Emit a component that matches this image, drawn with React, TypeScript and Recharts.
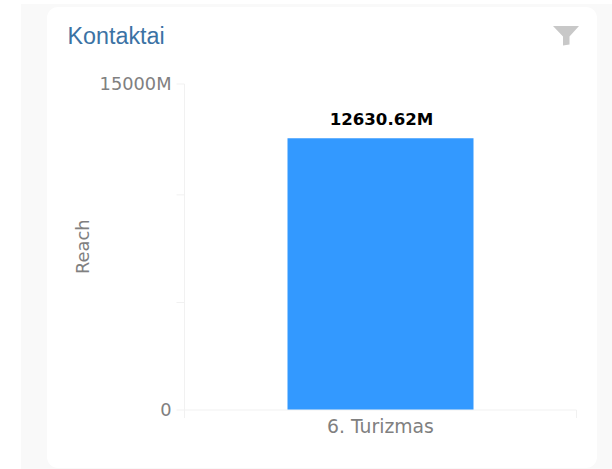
import { Bar, BarChart, LabelList, XAxis, YAxis } from 'recharts';

const categories = ['6. Turizmas'];
const reach = [12630.62];
// the top tick sits a little above where 15000 falls on the bar's scale in the reference
const yTicks = [0, 5000, 10000, 15155];
const yTickLabels = ['0', '', '', '15000M'];

const AXIS_COLOR = '#f1f1f1';
const TEXT_COLOR = '#808080';
const FONT = '"DejaVu Sans", sans-serif';

const data = categories.map((name, i) => ({ name, reach: reach[i] }));

function FunnelIcon() {
  return (
    <svg
      width={26}
      height={20}
      viewBox="0 0 26 20"
      style={{ position: 'absolute', left: 553, top: 26 }}
    >
      <path d="M0 0H26L16.5 10.5V18.5L10 19.5V10.5Z" fill="#c8c8c8" />
    </svg>
  );
}

// ticks sit on the band edges here, not on the band centre
function CategoryTick({ x, y, width, payload }: any) {
  const left = x - width / 2;
  const right = x + width / 2;
  const axisY = y - 6; // recharts still adds tickSize to y when tickLine is off
  return (
    <g>
      <line x1={left} x2={left} y1={axisY} y2={axisY + 8} stroke={AXIS_COLOR} />
      <line x1={right} x2={right} y1={axisY} y2={axisY + 8} stroke={AXIS_COLOR} />
      <text x={x} y={axisY + 23} textAnchor="middle" fill={TEXT_COLOR} fontSize={18.8}>
        {payload.value}
      </text>
    </g>
  );
}

export default function App() {
  return (
    <div
      style={{
        position: 'absolute',
        left: 0,
        top: 0,
        width: 612,
        height: 469,
        overflow: 'hidden',
        background: '#fff',
      }}
    >
      <div style={{ position: 'absolute', left: 21, top: 4, width: 591, height: 465, background: '#f9f9f9' }} />
      <div style={{ position: 'absolute', left: 47, top: 7, width: 550, height: 461, background: '#fff', borderRadius: 11 }} />
      <div
        style={{
          position: 'absolute',
          left: 67.5,
          top: 23,
          fontFamily: '"Liberation Sans", Arial, sans-serif',
          fontSize: 23.3,
          lineHeight: '26px',
          color: '#3b72a4',
        }}
      >
        Kontaktai
      </div>
      <FunnelIcon />
      <div style={{ position: 'absolute', left: 0, top: 0 }}>
        <BarChart
          width={612}
          height={469}
          data={data}
          margin={{ top: 84, right: 35.5, bottom: 39, left: 84 }}
          style={{ fontFamily: FONT }}
        >
          <XAxis
            dataKey="name"
            height={20}
            tickLine={false}
            axisLine={{ stroke: AXIS_COLOR }}
            tick={<CategoryTick />}
            tickMargin={0}
          />
          <YAxis
            width={100.5}
            domain={[0, 15155]}
            ticks={yTicks}
            interval={0}
            tickSize={8}
            tickMargin={5}
            tickLine={{ stroke: AXIS_COLOR }}
            axisLine={{ stroke: AXIS_COLOR }}
            tick={{ fill: TEXT_COLOR, fontSize: 17.8 }}
            tickFormatter={(v: number) => yTickLabels[yTicks.indexOf(v)]}
            label={{
              value: 'Reach',
              angle: -90,
              position: 'insideLeft',
              offset: -1,
              dy: 27,
              fill: TEXT_COLOR,
              fontSize: 17.8,
            }}
          />
          <Bar dataKey="reach" fill="#3399ff" barSize={186} isAnimationActive={false}>
            <LabelList
              dataKey="reach"
              position="top"
              offset={13}
              dx={1}
              formatter={(v: number) => `${v}M`}
              fill="#000"
              fontWeight="bold"
              fontSize={16.6}
            />
          </Bar>
        </BarChart>
      </div>
    </div>
  );
}
